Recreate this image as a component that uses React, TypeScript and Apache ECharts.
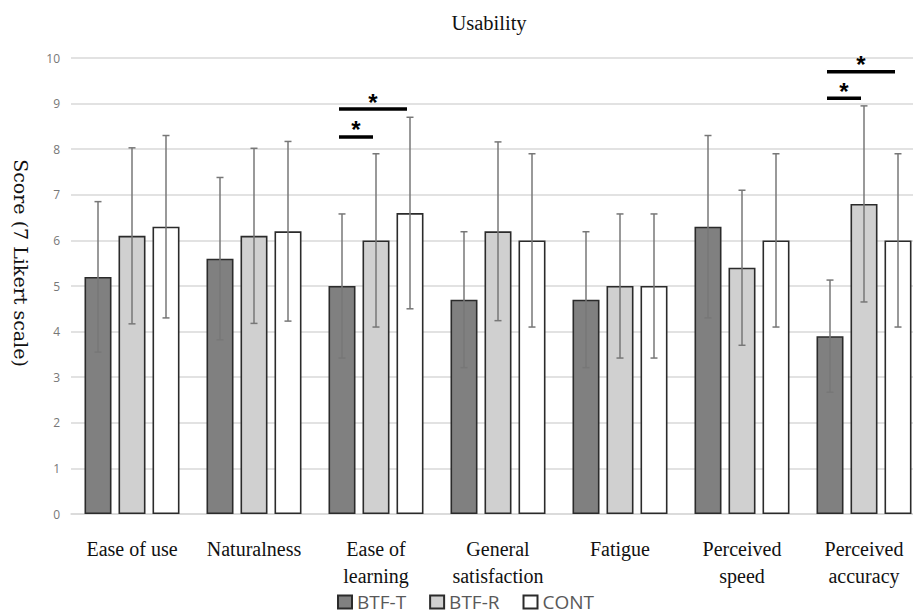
import React, { useEffect, useRef } from "react";
import * as echarts from "echarts";

const categories = [
  "Ease of use",
  "Naturalness",
  "Ease of\nlearning",
  "General\nsatisfaction",
  "Fatigue",
  "Perceived\nspeed",
  "Perceived\naccuracy",
];
const seriesNames = ["BTF-T", "BTF-R", "CONT"];
const btfT = [5.2, 5.6, 5.0, 4.7, 4.7, 6.3, 3.9];
const btfR = [6.1, 6.1, 6.0, 6.2, 5.0, 5.4, 6.8];
const cont = [6.3, 6.2, 6.6, 6.0, 5.0, 6.0, 6.0];
const sdT = [1.65, 1.78, 1.58, 1.49, 1.49, 2.0, 1.23];
const sdR = [1.93, 1.92, 1.9, 1.96, 1.58, 1.7, 2.15];
const sdC = [2.0, 1.97, 2.1, 1.9, 1.58, 1.9, 1.9];
// significance brackets: category, from series, to series, y level
const sigCat = [2, 2, 6, 6];
const sigFrom = [0, 0, 0, 0];
const sigTo = [1, 2, 1, 2];
const sigY = [8.27, 8.88, 9.12, 9.7];
const yTicks = [0, 10, 1];
const titleText = "Usability";
const yName = "Score (7 Likert scale)";

const BAR_W = 27;
const BAR_GAP = 7;
const colors = ["#808080", "#d0d0d0", "#ffffff"];

export default function App() {
  const ref = useRef<HTMLDivElement>(null);
  useEffect(() => {
    if (!ref.current) return;
    const chart = echarts.init(ref.current, null, { renderer: "svg" });
    const means = [btfT, btfR, cont];
    const sds = [sdT, sdR, sdC];
    const errData: number[][] = [];
    for (let s = 0; s < 3; s++)
      for (let c = 0; c < categories.length; c++) errData.push([c, s, means[s][c], sds[s][c]]);
    const sigData = sigCat.map((c, i) => [c, sigFrom[i], sigTo[i], sigY[i]]);
    const pitch = BAR_W + BAR_GAP;

    chart.setOption({
      animation: false,
      backgroundColor: "#ffffff",
      title: {
        text: titleText,
        left: 484,
        top: 7,
        textAlign: "center",
        textStyle: { fontFamily: "Liberation Serif", fontSize: 20.5, fontWeight: "normal", color: "#111" },
      },
      graphic: [
        {
          type: "text",
          x: 21,
          y: 263,
          rotation: -Math.PI / 2,
          style: {
            text: yName,
            fontFamily: "DejaVu Serif",
            fontSize: 19,
            fill: "#111",
            align: "center",
            verticalAlign: "middle",
          },
        },
      ],
      legend: {
        data: seriesNames,
        left: 337,
        top: 592,
        itemWidth: 14,
        itemHeight: 13,
        itemGap: 23,
        icon: "rect",
        padding: 0,
        textStyle: { fontFamily: "Open Sans", fontSize: 19, lineHeight: 20, color: "#595959" },
      },
      grid: { left: 71, right: -12, top: 58, bottom: 101, outerBoundsMode: "none" },
      xAxis: {
        type: "category",
        data: categories,
        axisLine: { lineStyle: { color: "#d9d9d9", width: 1.5 } },
        axisTick: { show: false },
        axisLabel: {
          fontFamily: "Liberation Serif",
          fontSize: 20,
          color: "#111",
          lineHeight: 27,
          margin: 21,
          interval: 0,
        },
      },
      yAxis: {
        type: "value",
        min: yTicks[0],
        max: yTicks[1],
        interval: yTicks[2],
        axisLine: { show: false },
        axisTick: { show: false },
        axisLabel: { fontFamily: "Open Sans", fontSize: 12, color: "#777", margin: 11 },
        splitLine: { lineStyle: { color: "#d9d9d9", width: 1.5 } },
      },
      series: [
        ...seriesNames.map((name, i) => ({
          name,
          type: "bar",
          data: means[i],
          barWidth: BAR_W,
          barGap: (BAR_GAP / BAR_W) * 100 + "%",
          itemStyle: { color: colors[i], borderColor: "#2b2b2b", borderWidth: 1.6 },
        })),
        {
          type: "custom",
          name: "err",
          z: 5,
          silent: true,
          data: errData,
          encode: { x: 0, y: 2 },
          renderItem: (params: any, api: any) => {
            const c = api.value(0);
            const s = api.value(1);
            const m = api.value(2);
            const sd = api.value(3);
            const top = api.coord([c, m + sd]);
            const bot = api.coord([c, m - sd]);
            const x = top[0] + (s - 1) * pitch;
            const st = { stroke: "#777777", lineWidth: 1.5 };
            return {
              type: "group",
              children: [
                { type: "line", shape: { x1: x, y1: top[1], x2: x, y2: bot[1] }, style: st },
                { type: "line", shape: { x1: x - 3.5, y1: top[1], x2: x + 3.5, y2: top[1] }, style: st },
                { type: "line", shape: { x1: x - 3.5, y1: bot[1], x2: x + 3.5, y2: bot[1] }, style: st },
              ],
            };
          },
        },
        {
          type: "custom",
          name: "sig",
          z: 6,
          silent: true,
          data: sigData,
          encode: { x: 0, y: 3 },
          renderItem: (params: any, api: any) => {
            const c = api.value(0);
            const f = api.value(1);
            const t = api.value(2);
            const y = api.value(3);
            const p = api.coord([c, y]);
            const x1 = p[0] + (f - 1) * pitch - 3;
            const x2 = p[0] + (t - 1) * pitch - 3;
            return {
              type: "group",
              children: [
                {
                  type: "line",
                  shape: { x1, y1: p[1], x2, y2: p[1] },
                  style: { stroke: "#000", lineWidth: 3.5 },
                },
                {
                  type: "text",
                  x: (x1 + x2) / 2,
                  y: p[1] - 7,
                  style: {
                    text: "*",
                    fontFamily: "Liberation Sans",
                    fontWeight: "bold",
                    fontSize: 24,
                    fill: "#000",
                    align: "center",
                    verticalAlign: "middle",
                  },
                },
              ],
            };
          },
        },
      ],
    });
    return () => chart.dispose();
  }, []);
  return (
    <div
      ref={ref}
      style={{ position: "fixed", left: 0, top: 0, width: 913, height: 615, background: "#fff" }}
    />
  );
}
